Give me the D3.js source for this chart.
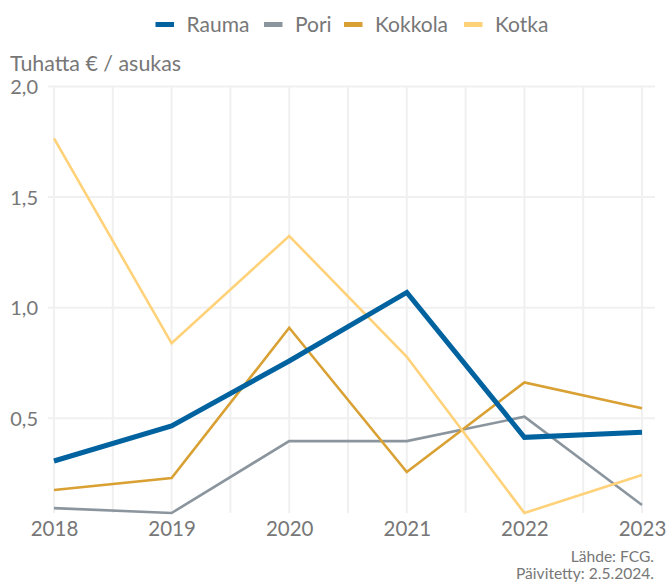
<!DOCTYPE html>
<html>
<head>
<meta charset="utf-8">
<script src="https://cdn.jsdelivr.net/npm/d3@7"></script>
<style>
  html, body { margin: 0; padding: 0; background: #fff; }
  svg { display: block; font-family: Lato, "Open Sans", sans-serif; }
</style>
</head>
<body>
<svg id="chart" width="668" height="583"></svg>
<script>
// Vuodet ja kuntakohtaiset arvot (tuhatta € / asukas)
const years = [2018, 2019, 2020, 2021, 2022, 2023];
const rauma   = [0.307, 0.466, 0.759, 1.069, 0.414, 0.437];
const pori    = [0.094, 0.072, 0.397, 0.397, 0.507, 0.108];
const kokkola = [0.176, 0.230, 0.909, 0.257, 0.662, 0.545];
const kotka   = [1.765, 0.839, 1.324, 0.778, 0.072, 0.244];

const seriesNames  = ["Rauma", "Pori", "Kokkola", "Kotka"];
const seriesColors = ["#0063a0", "#8b959e", "#d9a033", "#ffd27a"];
const seriesWidths = [5, 2.6, 2.6, 2.6];
const yTicks = [0.5, 1.0, 1.5, 2.0];

const series = [rauma, pori, kokkola, kotka].map((vals, i) => ({
  name: seriesNames[i], color: seriesColors[i], width: seriesWidths[i],
  values: vals.map((v, j) => ({ year: years[j], value: v }))
}));

const svg = d3.select("#chart");
const textColor = "#777";
const gridColor = "#f0f0f0";

const plotLeft = 54, plotRight = 642, plotTop = 86.4, plotBottom = 513;

const x = d3.scaleLinear().domain([2018, 2023]).range([plotLeft, plotRight]);
const allValues = [].concat(rauma, pori, kokkola, kotka);
const y = d3.scaleLinear().domain([d3.min(allValues), 2.0]).range([plotBottom, plotTop]);

// Pystysuuntainen ruudukko puolen vuoden välein
const halfYears = d3.range(2018, 2023.01, 0.5);
svg.append("g").selectAll("line").data(halfYears).join("line")
  .attr("x1", d => x(d)).attr("x2", d => x(d))
  .attr("y1", plotTop).attr("y2", plotBottom)
  .attr("stroke", gridColor).attr("stroke-width", 2);

// Vaakasuuntainen ruudukko
svg.append("g").selectAll("line").data(yTicks).join("line")
  .attr("x1", plotLeft - 6).attr("x2", plotRight + 13)
  .attr("y1", d => y(d)).attr("y2", d => y(d))
  .attr("stroke", gridColor).attr("stroke-width", 2);

// Y-akselin nimiöt
const fmt = d => d.toFixed(1).replace(".", ",");
const yAxis = svg.append("g").attr("transform", `translate(${plotLeft - 16},0)`)
  .call(d3.axisLeft(y).tickValues(yTicks).tickFormat(fmt).tickSize(0).tickPadding(0));
yAxis.select(".domain").remove();
yAxis.selectAll("text").attr("fill", textColor).attr("font-size", 20)
  .attr("font-family", "Lato, sans-serif").attr("dy", "0.35em");

// X-akselin nimiöt
const xAxis = svg.append("g").attr("transform", `translate(0,${plotBottom + 8})`)
  .call(d3.axisBottom(x).tickValues(years).tickFormat(d3.format("d")).tickSize(0).tickPadding(0));
xAxis.select(".domain").remove();
xAxis.selectAll("text").attr("fill", textColor).attr("font-size", 20.5)
  .attr("font-family", "Lato, sans-serif").attr("dy", "0.75em");

// Viivat
const line = d3.line().x(d => x(d.year)).y(d => y(d.value));
svg.append("g").selectAll("path").data([series[1], series[2], series[3], series[0]]).join("path")
  .attr("d", d => line(d.values))
  .attr("fill", "none")
  .attr("stroke", d => d.color)
  .attr("stroke-width", d => d.width)
  .attr("stroke-linejoin", "miter");

// Yksikkö
svg.append("text").attr("x", 10).attr("y", 70.5)
  .attr("fill", textColor).attr("font-size", 21.4).text("Tuhatta € / asukas");

// Selite
const legendX = [155.5, 264, 344, 464];
const legend = svg.append("g").selectAll("g").data(series).join("g")
  .attr("transform", (d, i) => `translate(${legendX[i]},0)`);
legend.append("rect").attr("x", 0).attr("y", 22).attr("width", 18.5).attr("height", 5)
  .attr("fill", d => d.color);
legend.append("text").attr("x", 31).attr("y", 32.3)
  .attr("fill", textColor).attr("font-size", 21).text(d => d.name);

// Lähde
const src = svg.append("text").attr("text-anchor", "end")
  .attr("fill", textColor).attr("font-size", 15.6);
src.append("tspan").attr("x", 654).attr("y", 562).text("Lähde: FCG.");
src.append("tspan").attr("x", 654).attr("y", 579).text("Päivitetty: 2.5.2024.");
</script>
</body>
</html>
